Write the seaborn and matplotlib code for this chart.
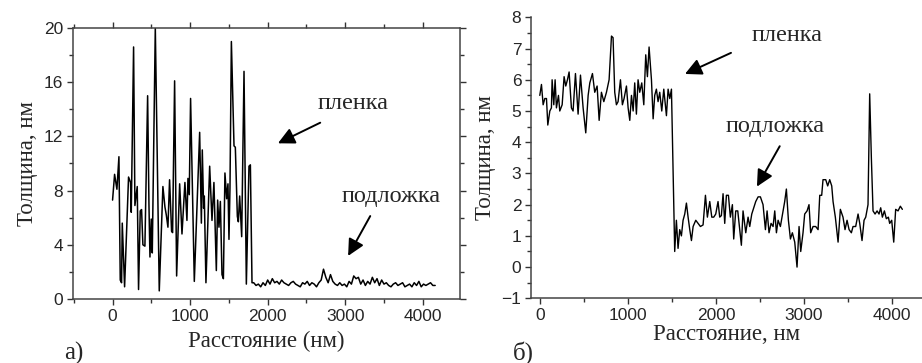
import numpy as np
import pandas as pd
import matplotlib
matplotlib.use("Agg")
import matplotlib.pyplot as plt
from matplotlib.ticker import MultipleLocator
import seaborn as sns

# a) толщина пленки, левая панель
film_a_x = [0, 26, 56, 82, 99, 116, 125, 155, 206, 232, 241, 271, 288, 318, 335, 357, 374, 391, 417,
            452, 469, 482, 499, 512, 551, 602, 649, 675, 693, 714, 735, 761, 774, 800, 826, 865, 895,
            933, 959, 972, 989, 1006, 1054, 1123, 1145, 1157, 1174, 1183, 1204, 1252, 1282, 1307, 1338,
            1355, 1372, 1390, 1411, 1429, 1449, 1471, 1488, 1501, 1514, 1532, 1566, 1583, 1609, 1622,
            1639, 1665, 1695, 1725, 1759, 1777, 1798]
film_a_y = [7.3, 9.2, 8.1, 10.5, 1.4, 1.2, 5.6, 0.9, 9.0, 8.6, 6.4, 18.6, 6.9, 8.3, 0.7, 6.5, 6.6, 4.0, 3.9,
            15.0, 7.0, 3.1, 5.9, 3.4, 20.0, 0.6, 8.3, 6.8, 6.2, 5.3, 8.8, 5.0, 4.9, 16.1, 1.7, 8.5, 4.8,
            8.6, 5.8, 8.9, 7.7, 14.8, 1.3, 12.3, 5.6, 11.0, 6.7, 7.6, 1.2, 9.8, 5.8, 8.6, 2.1,
            7.3, 5.3, 7.2, 1.8, 1.5, 9.3, 7.4, 8.5, 4.4, 8.2, 19.0, 11.3, 11.2, 6.1, 5.7,
            7.6, 4.6, 16.8, 1.1, 9.8, 9.9, 1.2]
# подложка, шаг 30 нм начиная с 1820
sub_a_start, sub_a_step = 1820, 30
sub_a_y = [1.2, 1.0, 1.1, 0.9, 1.2, 1.0, 1.4,
           1.1, 1.5, 1.2, 1.3, 1.1, 1.4, 1.2, 1.1, 1.0, 1.2,
           1.3, 1.1, 1.0, 0.9, 1.2, 1.1, 1.3, 1.0, 1.2, 1.1,
           0.9, 1.2, 1.4, 2.2, 1.6, 1.2, 1.8, 1.3, 1.1, 1.0,
           1.2, 1.0, 1.1, 0.9, 1.3, 1.1, 1.7, 1.5, 1.6, 1.1,
           1.4, 1.0, 1.3, 1.1, 1.6, 1.2, 1.5, 1.0, 1.4, 1.1,
           1.2, 1.0, 0.9, 1.1, 1.2, 1.0, 1.1, 1.2, 0.9, 1.0,
           1.1, 0.9, 1.2, 1.0, 1.3, 0.9, 1.1, 1.0, 1.1, 1.2, 1.0, 1.0]

# б) правая панель
prof_b_x = [0, 19, 38, 57, 76, 91, 114, 132, 140, 159, 174, 189, 212, 227, 254, 276, 295, 314, 333, 359,
            378, 405, 435, 462, 492, 522, 549, 568, 598, 624, 651, 674, 700, 727, 757, 787, 814, 832,
            851, 870, 889, 916, 938, 957, 984, 1003, 1022, 1041, 1060, 1078, 1097, 1116, 1135, 1158,
            1181, 1203, 1222, 1241, 1268, 1287, 1305, 1324, 1343, 1362, 1385, 1408, 1438, 1457, 1476,
            1495, 1532, 1551, 1570, 1589, 1608, 1627, 1646, 1665, 1684, 1703, 1722, 1741, 1771, 1797,
            1824, 1854, 1881, 1903, 1930, 1953, 1975, 1998, 2024, 2043, 2062, 2081, 2100, 2119, 2142,
            2164, 2187, 2202, 2225, 2248, 2270, 2289, 2308, 2339, 2365, 2384, 2407, 2429, 2452, 2479,
            2505, 2535, 2562, 2581, 2603, 2626, 2649, 2668, 2687, 2706, 2732, 2762, 2781, 2800, 2823,
            2846, 2868, 2895, 2921, 2944, 2963, 2989, 3008, 3035, 3057, 3076, 3103, 3133, 3160, 3179,
            3201, 3216, 3247, 3269, 3292, 3315, 3330, 3356, 3387, 3413, 3443, 3466, 3489, 3512, 3538,
            3557, 3587, 3614, 3633, 3659, 3682, 3701, 3727, 3746, 3765, 3784, 3807, 3830, 3852, 3871,
            3890, 3913, 3935, 3958, 3973, 3996, 4019, 4041, 4068, 4094, 4117]
prof_b_y = [5.5, 5.85, 5.2, 5.4, 5.4, 4.55, 5.0, 5.1, 6.0, 5.2, 6.0, 5.1, 5.5, 5.0, 5.2, 6.1, 5.8, 6.0, 6.25, 5.1,
            5.0, 6.2, 4.9, 6.15, 5.1, 4.3, 5.5, 5.9, 6.2, 5.6, 5.8, 4.7, 5.6, 5.3, 5.6, 6.0, 7.4, 7.35,
            5.6, 5.2, 5.3, 6.0, 5.2, 5.4, 5.8, 5.1, 4.7, 5.5, 5.0, 5.9, 4.9, 6.0, 5.6, 5.9,
            5.2, 6.8, 6.1, 7.05, 6.0, 4.75, 5.5, 5.7, 5.3, 5.6, 5.0, 5.7, 4.85, 5.7, 5.4,
            5.7, 0.5, 1.5, 0.6, 1.2, 1.0, 1.5, 1.7, 2.05, 1.6, 1.2, 0.85, 1.3, 1.5, 1.4,
            1.3, 1.35, 2.3, 1.6, 2.1, 1.6, 1.6, 1.7, 2.1, 1.6, 1.65, 2.35, 1.4, 2.3, 2.3,
            1.6, 2.0, 0.9, 1.8, 1.8, 1.2, 0.7, 1.8, 1.1, 1.6, 1.3, 1.7, 1.9, 2.1, 2.25,
            2.25, 2.0, 1.2, 1.8, 1.1, 1.4, 1.3, 1.8, 1.1, 1.5, 1.3, 1.8, 2.1, 2.5, 1.5,
            0.9, 1.1, 0.8, 0.0, 1.3, 0.5, 1.1, 1.7, 1.8, 2.0, 1.1, 1.3, 1.3, 1.2, 2.3,
            2.3, 2.8, 2.8, 2.6, 2.8, 2.6, 2.1, 1.6, 0.8, 1.85, 1.6, 1.2, 1.5, 1.2, 1.1,
            1.3, 1.3, 1.7, 1.4, 0.85, 1.5, 1.6, 2.0, 5.55, 3.5, 1.8, 1.7, 1.8, 1.7, 1.9,
            1.6, 1.8, 1.55, 1.6, 1.4, 1.5, 0.8, 1.85, 1.8, 1.95, 1.85]

sub_a_x = [sub_a_start + sub_a_step * i for i in range(len(sub_a_y))]
df_a = pd.DataFrame({"x": film_a_x + sub_a_x, "y": film_a_y + sub_a_y})
df_b = pd.DataFrame({"x": prof_b_x, "y": prof_b_y})

sns.set_style("ticks")
plt.rcParams["font.family"] = ["Liberation Sans", "DejaVu Sans"]
serif = ["Liberation Serif", "DejaVu Serif"]
arrow = dict(arrowstyle="-|>,head_length=1.0,head_width=0.5", color="black", lw=1.4)

fig = plt.figure(figsize=(9.22, 3.63), dpi=100)
ax1 = fig.add_axes([0.0792, 0.1763, 0.4197, 0.7466])
ax2 = fig.add_axes([0.5759, 0.1782, 0.4241, 0.774])

sns.lineplot(data=df_a, x="x", y="y", ax=ax1, color="black", linewidth=1.1, sort=False)
sns.lineplot(data=df_b, x="x", y="y", ax=ax2, color="black", linewidth=1.0, sort=False)

# левая панель
ax1.set_xlim(-510, 4480)
ax1.set_ylim(0, 20)
ax1.xaxis.set_major_locator(MultipleLocator(1000))
ax1.xaxis.set_minor_locator(MultipleLocator(500))
ax1.yaxis.set_major_locator(MultipleLocator(4))
ax1.yaxis.set_minor_locator(MultipleLocator(2))
ax1.tick_params(which="both", direction="out", top=True, right=True, width=1, color="#333333",
                labelsize=12.5, pad=3)
ax1.tick_params(which="major", length=4)
ax1.tick_params(which="minor", length=3)
for s in ax1.spines.values():
    s.set_linewidth(1.1)
    s.set_color("#444444")
ax1.set_xlabel("Расстояние (нм)", family=serif, fontsize=16.5, labelpad=5)
ax1.set_ylabel("Толщина, нм", family=serif, fontsize=16.5, labelpad=4)
ax1.text(2640, 14.4, "пленка", family=serif, fontsize=17.5, va="center")
ax1.annotate("", xy=(2100, 11.4), xytext=(2710, 13.1), arrowprops=arrow)
ax1.text(2950, 7.6, "подложка", family=serif, fontsize=17.5, va="center")
ax1.annotate("", xy=(3020, 3.0), xytext=(3340, 6.3), arrowprops=arrow)
fig.text(0.070, 0.01, "а)", family=serif, fontsize=18)

# правая панель
sns.despine(ax=ax2)
ax2.set_xlim(-100, 4340)
ax2.set_ylim(-1, 8)
ax2.xaxis.set_major_locator(MultipleLocator(1000))
ax2.xaxis.set_minor_locator(MultipleLocator(500))
ax2.yaxis.set_major_locator(MultipleLocator(1))
ax2.yaxis.set_minor_locator(MultipleLocator(0.5))
ax2.tick_params(which="both", direction="out", width=1, color="#333333", labelsize=12.5, pad=3)
ax2.tick_params(which="major", length=4)
ax2.tick_params(which="minor", length=3)
for s in ax2.spines.values():
    s.set_linewidth(1.1)
    s.set_color("#444444")
ax2.set_xlabel("Расстояние, нм", family=serif, fontsize=16.5, labelpad=1)
ax2.set_ylabel("Толщина, нм", family=serif, fontsize=16.5, labelpad=4)
ax2.text(2400, 7.42, "пленка", family=serif, fontsize=17.5, va="center")
ax2.annotate("", xy=(1620, 6.15), xytext=(2200, 6.9), arrowprops=arrow)
ax2.text(2110, 4.5, "подложка", family=serif, fontsize=17.5, va="center")
ax2.annotate("", xy=(2450, 2.5), xytext=(2740, 3.95), arrowprops=arrow)
fig.text(0.556, 0.01, "б)", family=serif, fontsize=18)

fig.savefig("out.png", dpi=100)
